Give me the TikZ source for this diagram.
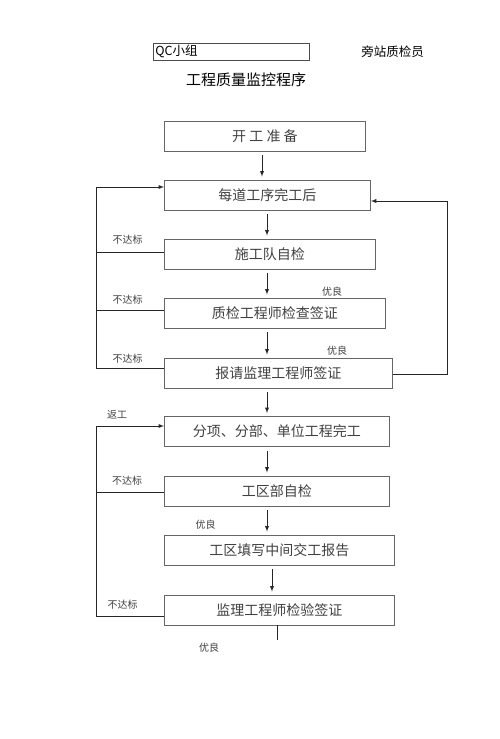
\documentclass[tikz,border=0pt]{standalone}
\usepackage{fontspec}
\setmainfont{Noto Sans CJK SC}
\tikzset{>=latex}
\usetikzlibrary{positioning}

\begin{document}
\begin{tikzpicture}[x=1pt, y=-1pt, line width=0.9pt,
    proc/.style={draw=black!60, text=black!75, anchor=west, minimum height=30pt, inner sep=0pt, font=\fontsize{14}{16}\selectfont},
    lab/.style={text=black!75, inner sep=0pt, font=\fontsize{10}{12}\selectfont},
    flow/.style={->, draw=black!85, shorten <=4pt, shorten >=3pt}]
  \useasboundingbox (0,0) rectangle (500,739);
  % header
  \node[draw=black!70, anchor=west, text width=152pt, inner xsep=2pt, inner ysep=0pt, minimum height=17pt, align=left, font=\fontsize{12.5}{14}\selectfont] (qc) at (153,51.5) {QC小组};
  \node[font=\fontsize{12.5}{14}\selectfont, inner sep=0pt] (insp) at (392.5,52) {旁站质检员};
  \node[font=\fontsize{15}{17}\selectfont, inner sep=0pt] (title) at (246,80) {工程质量监控程序};
  % process boxes
  \node[proc, minimum width=201pt] (b1) at (164,136) {开\ 工\ 准\ 备};
  \node[proc, minimum width=206pt] (b2) at (164,195) {每道工序完工后};
  \node[proc, minimum width=211pt] (b3) at (164,254) {施工队自检};
  \node[proc, minimum width=221pt] (b4) at (164,313) {质检工程师检查签证};
  \node[proc, minimum width=228pt] (b5) at (164,373) {报请监理工程师签证};
  \node[proc, minimum width=225pt] (b6) at (164,431.5) {分项、分部、单位工程完工};
  \node[proc, minimum width=225pt] (b7) at (164,491) {工区部自检};
  \node[proc, minimum width=230pt] (b8) at (164,550) {工区填写中间交工报告};
  \node[proc, minimum width=230pt] (b9) at (164,610) {监理工程师检验签证};
  % labels
  \node[lab] (n1) at (127.5,240) {不达标};
  \node[lab] (n2) at (127.5,300) {不达标};
  \node[lab] (n3) at (127.5,359) {不达标};
  \node[lab] (rw) at (117,415) {返工};
  \node[lab] (n4) at (127,481) {不达标};
  \node[lab] (n5) at (122.5,605) {不达标};
  \node[lab] (g1) at (332,292) {优良};
  \node[lab] (g2) at (337,351) {优良};
  \node[lab] (g3) at (205.5,525) {优良};
  \node[lab] (g4) at (209,648) {优良};
  % main flow
  \draw[flow] ([xshift=98pt]b1.south west) -- ([xshift=98pt]b2.north west);
  \draw[flow] ([xshift=103pt]b2.south west) -- ([xshift=103pt]b3.north west);
  \draw[flow] ([xshift=103pt]b3.south west) -- ([xshift=103pt]b4.north west);
  \draw[flow] ([xshift=103pt]b4.south west) -- ([xshift=103pt]b5.north west);
  \draw[flow] ([xshift=103pt]b5.south west) -- ([xshift=103pt]b6.north west);
  \draw[flow] ([xshift=103pt]b6.south west) -- ([xshift=103pt]b7.north west);
  \draw[flow] ([xshift=103pt]b7.south west) -- ([xshift=103pt]b8.north west);
  \draw[flow] ([xshift=108pt]b8.south west) -- ([xshift=108pt]b9.north west);
  \coordinate (fin) at (277,640);
  \draw[draw=black!85] (b9.south -| fin) -- (fin);
  % loops
  \coordinate (rloop) at (447,201);
  \coordinate (lloop1) at (96,187);
  \coordinate (lloop2) at (96,426);
  \draw[->, draw=black!85] ([yshift=-1pt]b5.east) -| (rloop) -- (b2.east |- rloop);
  \draw[->, draw=black!85] ([yshift=5pt]b5.west) -| (lloop1) -- (b2.west |- lloop1);
  \draw[draw=black!85] ([yshift=2pt]b3.west) -| (lloop1);
  \draw[draw=black!85] ([yshift=3pt]b4.west) -| (lloop1);
  \draw[->, draw=black!85] ([yshift=-6pt]b9.west) -| (lloop2) -- (b6.west |- lloop2);
  \draw[draw=black!85] ([yshift=-1pt]b7.west) -| (lloop2);
\end{tikzpicture}
\end{document}
